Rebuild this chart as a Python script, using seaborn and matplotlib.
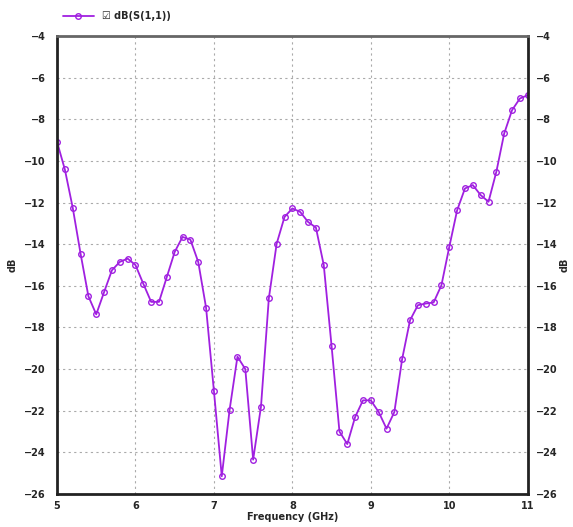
import numpy as np
import pandas as pd
import matplotlib
matplotlib.use("Agg")
import matplotlib.pyplot as plt
import seaborn as sns

# 주파수 (GHz) 와 S11 (dB)
freq_ghz = [5.0, 5.1, 5.2, 5.3, 5.4, 5.5, 5.6, 5.7, 5.8, 5.9,
            6.0, 6.1, 6.2, 6.3, 6.4, 6.5, 6.6, 6.7, 6.8, 6.9,
            7.0, 7.1, 7.2, 7.3, 7.4, 7.5, 7.6, 7.7, 7.8, 7.9,
            8.0, 8.1, 8.2, 8.3, 8.4, 8.5, 8.6, 8.7, 8.8, 8.9,
            9.0, 9.1, 9.2, 9.3, 9.4, 9.5, 9.6, 9.7, 9.8, 9.9,
            10.0, 10.1, 10.2, 10.3, 10.4, 10.5, 10.6, 10.7, 10.8, 10.9,
            11.0]
s11_db = [-9.08, -10.41, -12.24, -14.45, -16.5, -17.37, -16.3, -15.25, -14.85, -14.69,
          -15.0, -15.9, -16.77, -16.77, -15.57, -14.37, -13.65, -13.78, -14.85, -17.05,
          -21.05, -25.15, -21.95, -19.4, -20.0, -24.35, -21.8, -16.6, -13.97, -12.69,
          -12.28, -12.45, -12.93, -13.2, -15.0, -18.9, -23.0, -23.6, -22.3, -21.5,
          -21.5, -22.06, -22.86, -22.06, -19.5, -17.65, -16.93, -16.85, -16.8, -15.97,
          -14.13, -12.37, -11.32, -11.16, -11.64, -11.96, -10.52, -8.68, -7.56, -7.0,
          -6.84]
series_label = "\u2611 dB(S(1,1))"
x_ticks = [5, 6, 7, 8, 9, 10, 11]
y_ticks = list(range(-26, -3, 2))

df = pd.DataFrame({"Frequency": freq_ghz, "dB": s11_db, "Series": series_label})

sns.set_style("white")
plt.rcParams["font.family"] = ["DejaVu Sans"]

fig = plt.figure(figsize=(5.73, 5.27), dpi=100)
ax = fig.add_axes([0.0995, 0.0626, 0.8215, 0.869])

color = "#a020e0"
sns.lineplot(
    data=df, x="Frequency", y="dB", hue="Series", palette=[color],
    marker="o", markersize=4, markerfacecolor="none", markeredgecolor=color,
    markeredgewidth=1.0, linewidth=1.3, ax=ax,
)

ax.set_xlim(5, 11)
ax.set_ylim(-26, -4)
ax.set_xticks(x_ticks)
ax.set_yticks(y_ticks)
ax.grid(True, linestyle=(0, (2, 3)), color="#aaaaaa", linewidth=0.8)

for side in ["left", "right", "bottom"]:
    ax.spines[side].set_linewidth(2.0)
    ax.spines[side].set_color("#222222")
ax.spines["top"].set_linewidth(2.0)
ax.spines["top"].set_color("#666666")

ax.tick_params(axis="y", length=0, labelsize=7, pad=8)
ax.tick_params(axis="x", length=0, labelsize=7, pad=5)
for lbl in ax.get_xticklabels() + ax.get_yticklabels():
    lbl.set_fontweight("bold")

ax.set_xlabel("Frequency (GHz)", fontsize=7, fontweight="bold", labelpad=1)
ax.set_ylabel("dB", fontsize=7, fontweight="bold", labelpad=5)

# 오른쪽 축 (같은 눈금)
ax2 = ax.twinx()
ax2.set_ylim(-26, -4)
ax2.set_yticks(y_ticks)
ax2.tick_params(axis="y", length=0, labelsize=7, pad=6)
for lbl in ax2.get_yticklabels():
    lbl.set_fontweight("bold")
ax2.set_ylabel("dB", fontsize=7, fontweight="bold", labelpad=1)
for sp in ax2.spines.values():
    sp.set_visible(False)

ax.legend(
    loc="lower left", bbox_to_anchor=(0.0, 1.02), frameon=False,
    handlelength=3.2, borderaxespad=0.2,
    prop={"weight": "bold", "size": 7},
)

fig.savefig("out.png", dpi=100)
